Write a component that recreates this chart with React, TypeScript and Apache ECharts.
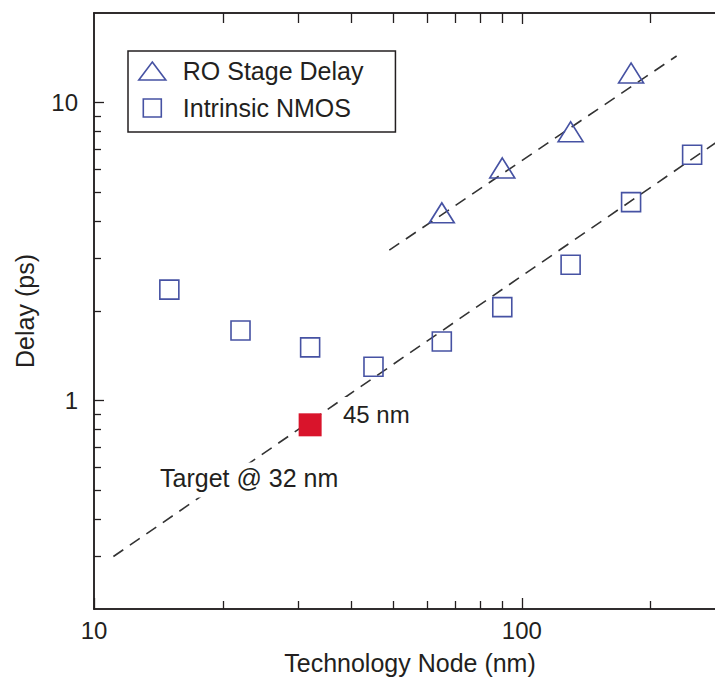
import React, { useEffect, useRef } from "react";
import * as echarts from "echarts";

// ---- data ----
const roNode = [65, 90, 130, 180];
const roDelay = [4.27, 6.04, 7.99, 12.58];

const nmosNode = [15, 22, 32, 45, 65, 90, 130, 180, 250];
const nmosDelay = [2.36, 1.72, 1.51, 1.3, 1.58, 2.06, 2.86, 4.64, 6.69];

const targetNode = [32];
const targetDelay = [0.83];

const roFitNode = [49, 230];
const roFitDelay = [3.2, 14.35];

const nmosFitNode = [11.1, 300];
const nmosFitDelay = [0.3, 7.75];

const xMinorTicks = [20, 30, 40, 50, 60, 70, 80, 90, 200];
const xMajorTicks = [10, 100];
const xLabels = [10, 100];
const yMinorTicks = [0.3, 0.4, 0.5, 0.6, 0.7, 0.8, 0.9, 2, 3, 4, 5, 6, 7, 8, 9];
const yMajorTicks = [1, 10];
const yLabels = [1, 10];

const seriesNames = ["RO Stage Delay", "Intrinsic NMOS"];

const FONT = "'Liberation Sans', Arial, Helvetica, sans-serif";
const INK = "#231f20";
const BLUE = "#4652a3";
const RED = "#d9142b";

const zip = (a: number[], b: number[]) => a.map((v, i) => [v, b[i]]);

export default function App() {
  const ref = useRef<HTMLDivElement>(null);
  useEffect(() => {
    if (!ref.current) return;
    const chart = echarts.init(ref.current, null, { renderer: "svg" });
    const lineStyle = { color: INK, width: 1.5 };
    const tickStyle = { color: INK, width: 1.3 };

    const xAxis = (
      position: string,
      ticks: number[],
      len: number,
      labels: boolean,
      name?: string
    ) => ({
      type: "log",
      logBase: 10,
      min: 10,
      max: 300,
      gridIndex: 0,
      position,
      name: name || "",
      nameLocation: "middle",
      nameGap: 41,
      nameTextStyle: { fontSize: 25, color: INK, fontFamily: FONT, lineHeight: 25 },
      axisLine: { show: true, onZero: false, lineStyle },
      axisTick: { show: true, inside: true, length: len, customValues: ticks, lineStyle: tickStyle },
      axisLabel: {
        show: labels,
        customValues: xLabels,
        margin: 9,
        fontSize: 24,
        lineHeight: 24,
        color: INK,
        fontFamily: FONT,
        formatter: (v: number) => String(Math.round(v)),
      },
      minorTick: { show: false },
      splitLine: { show: false },
    });

    const yAxis = (ticks: number[], len: number, labels: boolean, name?: string) => ({
      type: "log",
      logBase: 10,
      min: 0.2,
      max: 20,
      gridIndex: 0,
      position: "left",
      name: name || "",
      nameLocation: "middle",
      nameGap: 57,
      nameTextStyle: { fontSize: 25, color: INK, fontFamily: FONT, lineHeight: 25 },
      axisLine: { show: true, onZero: false, lineStyle },
      axisTick: { show: true, inside: true, length: len, customValues: ticks, lineStyle: tickStyle },
      axisLabel: {
        show: labels,
        customValues: yLabels,
        margin: 16,
        fontSize: 24,
        color: INK,
        fontFamily: FONT,
        formatter: (v: number) => String(Math.round(v)),
      },
      minorTick: { show: false },
      splitLine: { show: false },
    });

    const markerStyle = { color: "rgba(0,0,0,0)", borderColor: BLUE, borderWidth: 1.6, opacity: 1 };
    const dash = { color: "#333333", width: 1.6, type: [12, 8] };

    chart.setOption({
      animation: false,
      backgroundColor: "#ffffff",
      textStyle: { fontFamily: FONT },
      grid: {
        left: 94,
        top: 13,
        width: 632,
        height: 596,
        containLabel: false,
        outerBoundsMode: "none",
      },
      xAxis: [
        xAxis("bottom", xMinorTicks, 8, true, "Technology Node (nm)"),
        xAxis("bottom", xMajorTicks, 11, false),
        xAxis("top", xMinorTicks, 10, false),
        xAxis("top", [100], 11, false),
      ],
      yAxis: [yAxis(yMinorTicks, 7, true, "Delay (ps)"), yAxis(yMajorTicks, 10, false)],
      legend: {
        show: true,
        orient: "vertical",
        left: 128,
        top: 51,
        padding: [7.5, 32, 11.5, 10],
        itemGap: 12,
        itemWidth: 27,
        itemHeight: 18,
        borderColor: INK,
        borderWidth: 1.5,
        backgroundColor: "#ffffff",
        selectedMode: false,
        itemStyle: { color: "rgba(0,0,0,0)", borderColor: BLUE, borderWidth: 1.6, opacity: 1 },
        textStyle: {
          fontSize: 25,
          lineHeight: 25,
          color: INK,
          fontFamily: FONT,
          padding: [0, 0, 0, 12],
        },
        data: [
          { name: seriesNames[0], icon: "triangle" },
          { name: seriesNames[1], icon: "path://M0,0H18V18H0Z" },
        ],
      },
      series: [
        {
          name: "fitRO",
          type: "line",
          data: zip(roFitNode, roFitDelay),
          showSymbol: false,
          symbol: "none",
          lineStyle: dash,
          z: 2,
        },
        {
          name: "fitNMOS",
          type: "line",
          data: zip(nmosFitNode, nmosFitDelay),
          showSymbol: false,
          symbol: "none",
          lineStyle: dash,
          z: 2,
        },
        {
          name: seriesNames[0],
          type: "scatter",
          data: zip(roNode, roDelay),
          symbol: "triangle",
          symbolSize: [25, 20],
          itemStyle: markerStyle,
          z: 3,
        },
        {
          name: seriesNames[1],
          type: "scatter",
          data: zip(nmosNode, nmosDelay),
          symbol: "rect",
          symbolSize: 19,
          itemStyle: markerStyle,
          z: 3,
        },
        {
          name: "Target",
          type: "scatter",
          data: zip(targetNode, targetDelay),
          symbol: "rect",
          symbolSize: 23,
          itemStyle: { color: RED, opacity: 1 },
          z: 4,
        },
      ],
      graphic: [
        {
          type: "text",
          left: 339,
          top: 414 - 12 - 5,
          z: 10,
          style: {
            text: "45 nm",
            fontSize: 24,
            fill: INK,
            fontFamily: FONT,
            lineHeight: 24,
            backgroundColor: "#ffffff",
            padding: [5, 4, 2, 4],
          },
        },
        {
          type: "text",
          left: 157,
          top: 478 - 12.5 - 3,
          z: 10,
          style: {
            text: "Target @ 32 nm",
            fontSize: 25,
            fill: INK,
            fontFamily: FONT,
            lineHeight: 25,
            backgroundColor: "#ffffff",
            padding: [3, 3, 7, 3],
          },
        },
      ],
    });
    return () => chart.dispose();
  }, []);
  return (
    <div
      ref={ref}
      style={{ position: "absolute", left: 0, top: 0, width: 715, height: 680, background: "#fff" }}
    />
  );
}
